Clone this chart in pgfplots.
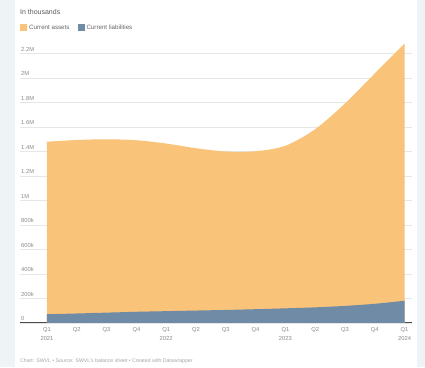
\documentclass[border=0pt]{standalone}
\usepackage{fontspec}
\setmainfont{Liberation Sans}
\usepackage{pgfplots}
\pgfplotsset{compat=1.18}
\definecolor{assets}{HTML}{FAC37A}
\definecolor{liab}{HTML}{6F8BA6}
\definecolor{bg}{HTML}{EEF3F5}
\definecolor{txt}{HTML}{8A8A8A}
\definecolor{gridc}{HTML}{E6E6E6}
\begin{document}
\begin{tikzpicture}[x=1pt,y=1pt]
\useasboundingbox (0,0) rectangle (425,367);
\fill[bg] (0,0) rectangle (425,367);
\fill[white] (15,0) rectangle (417,367);
\node[anchor=west, inner sep=0, text=black!65, font=\fontsize{7}{8}\selectfont] at (20,355) {In thousands};
\node[anchor=west, inner sep=0, text=black!35, font=\fontsize{5.2}{6}\selectfont] at (20,6) {Chart: SWVL \textbullet{} Source: SWVL's balance sheet \textbullet{} Created with Datawrapper};
\begin{axis}[
  at={(20pt,44.2pt)}, anchor=south west,
  scale only axis, width=392pt, height=281.8pt,
  xmin=-0.906, xmax=12.25, ymin=0, ymax=2300,
  axis lines*=left,
  y axis line style={draw=none},
  x axis line style={draw=black!70, line width=0.8pt},
  ytick={0,200,...,2200},
  yticklabels={0,200k,400k,600k,800k,1M,1.2M,1.4M,1.6M,1.8M,2M,2.2M},
  yticklabel style={anchor=south west, inner sep=1pt, yshift=1pt, font=\fontsize{5.8}{6}\selectfont, text=txt},
  ymajorgrids, grid style={gridc, line width=0.5pt},
  major tick length=0pt,
  xtick={0,...,12},
  xticklabels={{Q1\\2021},Q2,Q3,Q4,{Q1\\2022},Q2,Q3,Q4,{Q1\\2023},Q2,Q3,Q4,{Q1\\2024}},
  xticklabel style={align=center, font=\fontsize{5.8}{9}\selectfont, text=txt, yshift=-1pt},
  legend style={at={(0,1.046)}, anchor=west, draw=none, fill=none, inner sep=0pt,
    font=\fontsize{6.2}{7}\selectfont, text=black!60},
  legend columns=2,
  legend image code/.code={\fill[#1] (0pt,-3pt) rectangle (7pt,4pt);},
  /tikz/every even column/.append style={column sep=6pt},
  clip=false,
]
\addplot[fill=assets, draw=none, smooth] table {
x y
0 1478
1 1492
2 1498
3 1490
4 1463
5 1425
6 1398
7 1400
8 1445
9 1580
10 1790
11 2035
12 2280
} \closedcycle;
\addlegendentry{Current assets}
\addplot[fill=liab, draw=none, smooth] table {
x y
0 70
1 76
2 83
3 90
4 95
5 100
6 105
7 111
8 118
9 126
10 138
11 155
12 180
} \closedcycle;
\addlegendentry{Current liabilities}
\end{axis}
\end{tikzpicture}
\end{document}
